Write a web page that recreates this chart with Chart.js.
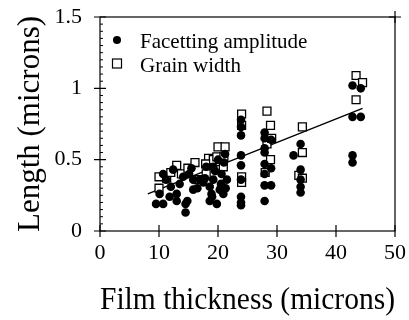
<!DOCTYPE html>
<html lang="en">
<head>
    <meta charset="UTF-8">
    <title>Length vs film thickness</title>
    <script src="https://cdn.jsdelivr.net/npm/chart.js"></script>
    <style>
        body { margin: 0; background: #fff; }
        #wrap { width: 409px; height: 320px; }
    </style>
</head>
<body>
    <div id="wrap"><canvas id="lengthChart"></canvas></div>

    <script>
        // facetting amplitude (filled circles)
        const facetX = [9.5, 10.7, 10.1, 10.7, 11.2, 12.4, 13, 13, 13.5, 14.1, 14.5, 14.5, 15.1, 15.8, 15.8, 16.9, 17.5, 18, 18.6, 18.6, 19.2, 19.2, 19.8, 20, 20.3, 20.6, 20.9, 21.2, 21.5,
            16.5, 17.8, 19.5, 18.9, 20.5, 21, 12, 11.8, 14.8, 19, 21.3, 15.5,
            23.9, 23.9, 23.9, 23.9, 23.9, 23.9, 23.9, 23.9, 23.9,
            27.9, 27.9, 27.9, 27.9, 27.9, 27.9, 27.9, 27.9, 29, 29, 29,
            32.8, 34, 34, 34, 34, 34,
            42.8, 42.8, 42.8, 42.8, 44.2, 44.2];
        const facetY = [0.19, 0.19, 0.26, 0.40, 0.36, 0.43, 0.21, 0.26, 0.33, 0.38, 0.19, 0.13, 0.40, 0.36, 0.29, 0.36, 0.34, 0.45, 0.31, 0.21, 0.36, 0.45, 0.19, 0.50, 0.29, 0.40, 0.26, 0.54, 0.36,
            0.30, 0.37, 0.42, 0.26, 0.33, 0.48, 0.31, 0.24, 0.21, 0.24, 0.30, 0.44,
            0.78, 0.73, 0.67, 0.53, 0.46, 0.36, 0.24, 0.20, 0.18,
            0.69, 0.65, 0.58, 0.55, 0.47, 0.40, 0.32, 0.21, 0.44, 0.32, 0.64,
            0.53, 0.61, 0.43, 0.36, 0.31, 0.27,
            1.02, 0.80, 0.53, 0.48, 1.00, 0.80];

        // grain width (open squares)
        const grainX = [10, 10, 11.3, 13, 13.8, 14.9, 16.1, 18.4, 19.2, 20, 21.2, 20.3, 18, 20.9,
            12, 16.5, 19.8, 21, 17.9,
            24, 24, 24, 24,
            28.3, 28.9, 28.3, 29.1, 28.9, 28,
            34.3, 34.3, 33.7, 34.3,
            43.4, 44.5, 43.4];
        const grainY = [0.38, 0.30, 0.37, 0.46, 0.40, 0.44, 0.48, 0.51, 0.50, 0.59, 0.59, 0.43, 0.40, 0.45,
            0.41, 0.36, 0.52, 0.52, 0.47,
            0.82, 0.74, 0.38, 0.34,
            0.84, 0.74, 0.61, 0.65, 0.50, 0.41,
            0.73, 0.55, 0.39, 0.37,
            1.09, 1.04, 0.92];

        // fitted line ends
        const trendX = [8.1, 44.5];
        const trendY = [0.26, 0.86];

        const xTickLabels = ['0', '10', '20', '30', '40', '50'];
        const yTickLabels = ['0', '0.5', '1', '1.5'];
        const legendLabels = ['Facetting amplitude', 'Grain width'];

        const serif = '"Liberation Serif", "DejaVu Serif", serif';

        const toPoints = (xs, ys) => xs.map((x, i) => ({ x: x, y: ys[i] }));

        // box, crossing ticks, minor ticks and the legend
        const framePlugin = {
            id: 'frame',
            afterDraw(chart) {
                const ctx = chart.ctx;
                const a = chart.chartArea;
                const xs = chart.scales.x;
                const ys = chart.scales.y;
                ctx.save();
                ctx.strokeStyle = '#000';
                ctx.lineWidth = 1.2;
                ctx.strokeRect(a.left, a.top, a.right - a.left, a.bottom - a.top);

                ctx.beginPath();
                xTickLabels.forEach((t, i) => {
                    const px = xs.getPixelForValue(i * 10);
                    ctx.moveTo(px, a.bottom - 6);
                    ctx.lineTo(px, a.bottom + 6);
                });
                yTickLabels.forEach((t, i) => {
                    const py = ys.getPixelForValue(i * 0.5);
                    ctx.moveTo(a.left - 6, py);
                    ctx.lineTo(a.left + 6, py);
                });
                ctx.moveTo(a.right - 6, a.top);
                ctx.lineTo(a.right + 6, a.top);
                ctx.moveTo(a.right, a.top - 6);
                ctx.lineTo(a.right, a.top + 6);
                ctx.stroke();

                ctx.lineWidth = 1;
                ctx.beginPath();
                for (let k = 1; k < 30; k++) {
                    if (k % 10 === 0) continue;
                    const py = ys.getPixelForValue(k * 0.05);
                    ctx.moveTo(a.left, py);
                    ctx.lineTo(a.left + 3, py);
                }
                ctx.stroke();

                // legend
                ctx.fillStyle = '#000';
                ctx.beginPath();
                ctx.arc(a.left + 17, a.top + 23, 4, 0, Math.PI * 2);
                ctx.fill();
                ctx.lineWidth = 1.2;
                ctx.strokeRect(a.left + 12.5, a.top + 42, 9, 9);
                ctx.font = '21px ' + serif;
                ctx.textBaseline = 'alphabetic';
                ctx.fillText(legendLabels[0], a.left + 40, a.top + 31);
                ctx.fillText(legendLabels[1], a.left + 40, a.top + 55);
                ctx.restore();
            }
        };

        new Chart(document.getElementById('lengthChart'), {
            type: 'scatter',
            data: {
                datasets: [
                    {
                        label: legendLabels[0],
                        data: toPoints(facetX, facetY),
                        pointStyle: 'circle',
                        pointRadius: 4.3,
                        backgroundColor: '#000',
                        borderColor: '#000',
                        borderWidth: 0
                    },
                    {
                        label: legendLabels[1],
                        data: toPoints(grainX, grainY),
                        pointStyle: 'rect',
                        pointRadius: 5.6,
                        backgroundColor: '#fff',
                        borderColor: '#000',
                        borderWidth: 1.3
                    },
                    {
                        label: 'fit',
                        type: 'line',
                        data: toPoints(trendX, trendY),
                        borderColor: '#000',
                        borderWidth: 1.4,
                        pointRadius: 0,
                        fill: false
                    }
                ]
            },
            options: {
                responsive: true,
                maintainAspectRatio: false,
                animation: false,
                layout: { padding: { top: 17, right: 14, left: 0, bottom: 0 } },
                plugins: {
                    legend: { display: false },
                    tooltip: { enabled: false }
                },
                scales: {
                    x: {
                        type: 'linear',
                        min: 0,
                        max: 50,
                        border: { display: false },
                        grid: { display: false, drawTicks: false },
                        ticks: {
                            stepSize: 10,
                            padding: 9,
                            color: '#000',
                            font: { family: serif, size: 22 },
                            callback: (v) => xTickLabels[Math.round(v / 10)]
                        },
                        title: {
                            display: true,
                            text: 'Film thickness (microns)',
                            color: '#000',
                            font: { family: serif, size: 31 },
                            padding: { top: 0, bottom: 1 }
                        },
                        afterFit: (s) => {
                            s.height = 89;
                            s.paddingLeft = 0;
                            s.paddingRight = 0;
                        }
                    },
                    y: {
                        min: 0,
                        max: 1.5,
                        border: { display: false },
                        grid: { display: false, drawTicks: false },
                        ticks: {
                            stepSize: 0.5,
                            padding: 18,
                            color: '#000',
                            font: { family: serif, size: 22 },
                            callback: (v) => yTickLabels[Math.round(v / 0.5)]
                        },
                        title: {
                            display: true,
                            text: 'Length (microns)',
                            color: '#000',
                            font: { family: serif, size: 31 },
                            padding: { top: 12, bottom: 0 }
                        },
                        afterFit: (s) => {
                            s.width = 100;
                            s.paddingTop = 0;
                            s.paddingBottom = 0;
                        }
                    }
                }
            },
            plugins: [framePlugin]
        });
    </script>
</body>
</html>
